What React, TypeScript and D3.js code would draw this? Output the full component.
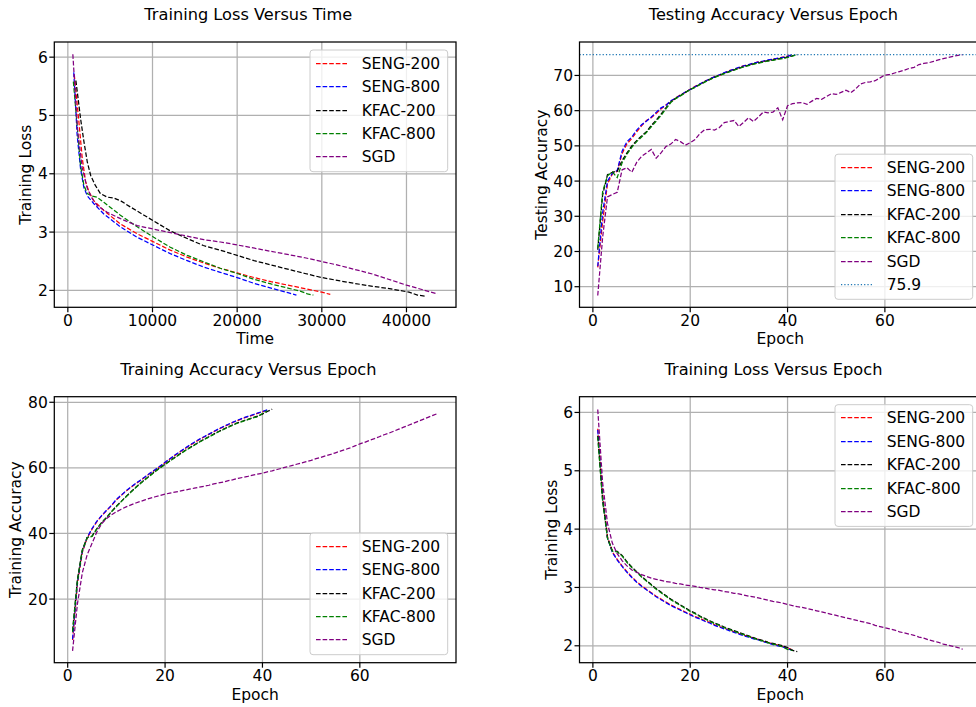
import React from "react";
import * as d3 from "d3";

const FONT = "DejaVu Sans, Verdana, sans-serif";
const FS = 15.5;
const TITLE_FS = 16.2;

const methodNames = ["SENG-200", "SENG-800", "KFAC-200", "KFAC-800", "SGD"];
const methodColors = ["#ff0000", "#0000ff", "#000000", "#008000", "#800080"];

// training loss vs wall-clock time, [seconds, loss]
const sengTime200 = [[760, 5.7], [1300, 4.9], [1700, 4.27], [2100, 3.86], [2500, 3.69], [3050, 3.54], [4250, 3.37], [6200, 3.14], [8200, 2.97], [10150, 2.83], [12100, 2.69], [14100, 2.57], [16050, 2.47], [18000, 2.38], [20000, 2.3], [22000, 2.22], [24000, 2.15], [26000, 2.09], [28000, 2.03], [30000, 1.97], [31000, 1.93]];
const sengTime800 = [[700, 5.74], [1100, 4.66], [1500, 4.09], [1900, 3.76], [2300, 3.62], [3050, 3.49], [4250, 3.31], [6200, 3.09], [8200, 2.91], [10150, 2.77], [12100, 2.63], [14100, 2.51], [16050, 2.4], [18000, 2.31], [20000, 2.22], [22000, 2.12], [24000, 2.04], [26000, 1.96], [27000, 1.92]];
const kfacTime200 = [[950, 5.6], [1500, 4.95], [1900, 4.55], [2300, 4.2], [2700, 3.97], [3250, 3.8], [3850, 3.66], [4650, 3.6], [5500, 3.58], [6300, 3.53], [7400, 3.43], [9000, 3.29], [10150, 3.19], [12100, 3.02], [14100, 2.89], [16000, 2.77], [18000, 2.69], [20000, 2.6], [22000, 2.51], [25000, 2.4], [28000, 2.29], [30000, 2.22], [33000, 2.14], [36000, 2.07], [38000, 2.03], [40300, 1.97], [41300, 1.92], [42300, 1.9]];
const kfacTime800 = [[650, 5.58], [1100, 4.83], [1500, 4.14], [1900, 3.8], [2300, 3.66], [2800, 3.62], [3450, 3.6], [4250, 3.51], [6200, 3.29], [8200, 3.09], [10150, 2.91], [12100, 2.74], [14100, 2.6], [16050, 2.49], [18000, 2.38], [20000, 2.29], [22000, 2.19], [24000, 2.11], [26000, 2.04], [27600, 1.98], [28300, 1.94], [29000, 1.92]];
const sgdTime = [[590, 6.05], [1150, 4.75], [1700, 4.1], [2300, 3.75], [2900, 3.57], [3500, 3.45], [4650, 3.34], [6220, 3.23], [8190, 3.11], [10160, 3.05], [12130, 2.99], [14090, 2.93], [16060, 2.87], [18030, 2.83], [20000, 2.78], [24000, 2.67], [28000, 2.56], [32000, 2.43], [36000, 2.28], [40000, 2.09], [43660, 1.94]];

// testing accuracy per epoch (epoch 1..n)
const sengTest200 = [15.5, 28.5, 39.2, 42, 42.8, 47.8, 50.6, 52.1, 54, 55.7, 57.2, 58, 59.2, 60.5, 61.6, 62.6, 63.6, 64.5, 65.2, 66.1, 66.9, 67.5, 68.4, 68.9, 69.7, 70.1, 70.7, 71.4, 71.7, 72.2, 72.8, 73, 73.4, 73.9, 74, 74.3, 74.7, 74.8, 75.2, 75.5, 75.9];
const sengTest800 = [15.8, 31, 40, 42.2, 43, 48.5, 51.2, 52.5, 54.5, 56, 57, 58.2, 59.5, 60.8, 61.5, 62.8, 63.5, 64.4, 65.3, 66, 66.8, 67.6, 68.3, 69, 69.6, 70.2, 70.8, 71.3, 71.8, 72.3, 72.7, 73.1, 73.5, 73.8, 74.1, 74.4, 74.6, 74.9, 75.1, 75.4, 75.9];
const kfacTest200 = [20.5, 36, 41.8, 42.5, 42.8, 45.8, 48, 50, 51.5, 52.8, 54, 55.8, 57.3, 59, 60.8, 62.5, 63.5, 64.3, 65.2, 66, 66.7, 67.5, 68.2, 68.9, 69.5, 70.1, 70.6, 71.1, 71.6, 72.1, 72.5, 72.9, 73.3, 73.6, 73.9, 74.2, 74.4, 74.7, 74.9, 75.2, 75.6, 75.9];
const kfacTest800 = [21, 37, 41.5, 42.6, 41, 45.2, 47.6, 49.6, 51.2, 52.5, 53.8, 55.4, 57, 58.6, 60.5, 62.3, 63.4, 64.2, 65.1, 66, 66.6, 67.4, 68.1, 68.8, 69.4, 70, 70.5, 71, 71.5, 72, 72.4, 72.8, 73.2, 73.5, 73.8, 74.1, 74.3, 74.6, 74.8, 75.1, 75.5, 75.9];
const sgdTest = [7.5, 24, 35.5, 36.2, 36.8, 43.2, 43.8, 42.5, 45.3, 47, 48, 49, 46.5, 48, 49.8, 50.5, 51.8, 51.2, 50.2, 50.9, 51.8, 53.5, 54.6, 54.7, 54.5, 55.2, 56.6, 56.9, 57.2, 55.5, 56.7, 58, 56.9, 58.2, 59.6, 59.4, 59.6, 60.8, 57.4, 61.4, 62, 62.2, 62.3, 61.8, 62.7, 63.5, 63.2, 64, 64.8, 64.6, 65.2, 65.8, 65.1, 66.2, 67.6, 68, 68.2, 68.5, 69.3, 70.1, 70.3, 70.7, 71.1, 71.5, 72, 72.3, 73.1, 73.4, 73.6, 74, 74.4, 74.8, 75.1, 75.4, 75.7, 75.9];
const targetAcc = 75.9;

// training accuracy per epoch
const sengTrain200 = [7.5, 24.6, 34.2, 38.6, 41.3, 43.6, 45.4, 47, 48.5, 50.2, 51.6, 52.9, 54.1, 55.2, 56.2, 57.3, 58.4, 59.4, 60.5, 61.6, 62.7, 63.8, 64.8, 65.8, 66.8, 67.7, 68.6, 69.4, 70.2, 71, 71.8, 72.5, 73.2, 73.9, 74.5, 75.1, 75.6, 76.1, 76.6, 77.1, 77.6];
const sengTrain800 = [7.8, 25, 34.5, 38.8, 41.5, 43.8, 45.5, 47.1, 48.6, 50.4, 51.7, 53, 54.2, 55.3, 56.3, 57.4, 58.5, 59.5, 60.6, 61.7, 62.8, 63.9, 64.9, 65.9, 66.9, 67.8, 68.7, 69.5, 70.3, 71.1, 71.9, 72.6, 73.3, 74, 74.6, 75.2, 75.7, 76.2, 76.7, 77.2, 77.7];
const kfacTrain200 = [10.3, 26, 35, 38.8, 39.2, 41.5, 43.4, 44.9, 46.7, 48.3, 49.8, 51.3, 52.7, 54.1, 55.4, 56.6, 57.8, 59, 60.1, 61.1, 62.2, 63.2, 64.2, 65.2, 66.1, 67, 67.9, 68.7, 69.5, 70.3, 71.1, 71.8, 72.5, 73.2, 73.8, 74.3, 74.8, 75.3, 75.8, 76.4, 77.2, 77.9];
const kfacTrain800 = [10, 25.6, 34.8, 38.7, 39.1, 41.4, 43.3, 44.8, 46.6, 48.2, 49.7, 51.2, 52.6, 54, 55.3, 56.5, 57.7, 58.9, 60, 61, 62.1, 63.1, 64.1, 65.1, 66, 66.9, 67.8, 68.6, 69.4, 70.2, 71, 71.7, 72.4, 73.1, 73.7, 74.2, 74.7, 75.2, 75.6, 76.6, 77.4];
const sgdTrain = [4.2, 18.5, 28, 33.5, 37, 40.5, 43, 44.6, 45.7, 46.6, 47.4, 48.1, 48.7, 49.3, 49.8, 50.3, 50.8, 51.2, 51.6, 52, 52.3, 52.6, 52.9, 53.2, 53.5, 53.8, 54.1, 54.4, 54.7, 55.1, 55.4, 55.7, 56.1, 56.4, 56.8, 57.1, 57.4, 57.8, 58.1, 58.4, 58.8, 59.1, 59.5, 59.9, 60.3, 60.7, 61.1, 61.5, 61.9, 62.3, 62.8, 63.2, 63.7, 64.1, 64.6, 65.1, 65.6, 66.1, 66.7, 67.3, 67.8, 68.4, 68.9, 69.5, 70.1, 70.6, 71.2, 71.8, 72.4, 73, 73.6, 74.2, 74.8, 75.4, 76, 76.6];

// training loss per epoch
const sengLoss200 = [5.72, 4.6, 3.87, 3.61, 3.48, 3.37, 3.27, 3.18, 3.1, 3.03, 2.97, 2.91, 2.85, 2.8, 2.75, 2.7, 2.66, 2.62, 2.58, 2.54, 2.5, 2.47, 2.43, 2.4, 2.36, 2.33, 2.3, 2.27, 2.24, 2.21, 2.18, 2.16, 2.13, 2.11, 2.08, 2.06, 2.03, 2.01, 1.99, 1.96, 1.93];
const sengLoss800 = [5.7, 4.55, 3.85, 3.6, 3.47, 3.36, 3.26, 3.17, 3.09, 3.02, 2.96, 2.9, 2.84, 2.79, 2.74, 2.69, 2.65, 2.61, 2.57, 2.53, 2.49, 2.46, 2.42, 2.39, 2.35, 2.32, 2.29, 2.26, 2.23, 2.2, 2.17, 2.15, 2.12, 2.1, 2.07, 2.05, 2.02, 2.0, 1.98, 1.95, 1.92];
const kfacLoss200 = [5.6, 4.5, 3.85, 3.63, 3.62, 3.55, 3.44, 3.35, 3.27, 3.19, 3.12, 3.05, 2.98, 2.92, 2.86, 2.8, 2.75, 2.7, 2.65, 2.6, 2.56, 2.51, 2.47, 2.43, 2.39, 2.36, 2.32, 2.29, 2.26, 2.23, 2.2, 2.17, 2.14, 2.11, 2.09, 2.06, 2.04, 2.02, 2.0, 1.97, 1.92, 1.9];
const kfacLoss800 = [5.58, 4.48, 3.84, 3.62, 3.61, 3.54, 3.43, 3.34, 3.26, 3.18, 3.11, 3.04, 2.97, 2.91, 2.85, 2.79, 2.74, 2.69, 2.64, 2.59, 2.55, 2.5, 2.46, 2.42, 2.38, 2.35, 2.31, 2.28, 2.25, 2.22, 2.19, 2.16, 2.13, 2.1, 2.08, 2.05, 2.03, 2.01, 1.98, 1.94, 1.92];
const sgdLoss = [6.05, 4.8, 4.1, 3.76, 3.58, 3.46, 3.37, 3.3, 3.26, 3.22, 3.19, 3.16, 3.14, 3.12, 3.1, 3.09, 3.07, 3.06, 3.04, 3.03, 3.02, 3.0, 2.99, 2.97, 2.96, 2.95, 2.93, 2.92, 2.9, 2.89, 2.87, 2.85, 2.84, 2.82, 2.8, 2.78, 2.76, 2.75, 2.73, 2.71, 2.69, 2.67, 2.66, 2.64, 2.62, 2.6, 2.58, 2.56, 2.54, 2.52, 2.5, 2.48, 2.46, 2.44, 2.42, 2.4, 2.38, 2.35, 2.33, 2.31, 2.29, 2.27, 2.24, 2.22, 2.2, 2.18, 2.15, 2.13, 2.1, 2.08, 2.06, 2.03, 2.01, 1.99, 1.97, 1.94];

const lossTicks = [2, 3, 4, 5, 6];
const timeTicks = [0, 10000, 20000, 30000, 40000];
const epochTicks = [0, 20, 40, 60];
const testTicks = [10, 20, 30, 40, 50, 60, 70];
const trainTicks = [20, 40, 60, 80];

const byEpoch = (vals) => vals.map((v, i) => [i + 1, v]);

const DASH = "4.6 2";
const DOT = "1.25 2.05";

function Panel({ id, box, title, xLabel, yLabel, yLabelOff, xDomain, yDomain, xTicks, yTicks, series, hline, legendAt }) {
  const x = d3.scaleLinear().domain(xDomain).range([box.left, box.right]);
  const y = d3.scaleLinear().domain(yDomain).range([box.bottom, box.top]);
  const line = d3.line().x(d => x(d[0])).y(d => y(d[1]));
  const cx = (box.left + box.right) / 2;
  const cy = (box.top + box.bottom) / 2;

  const entries = series.map(s => ({ name: s.name, color: s.color, dash: DASH }));
  if (hline) entries.push({ name: hline.name, color: hline.color, dash: DOT });
  const lw = 137.7, rowH = 23.4;
  const lh = 121.7 + (entries.length - 5) * rowH;
  const lx = box.right - 8.3 - lw;
  const ly = legendAt === "top" ? box.top + 8 : box.bottom - 8 - lh;

  return (
    <g fontFamily={FONT} fontSize={FS}>
      <defs>
        <clipPath id={id}>
          <rect x={box.left} y={box.top} width={box.right - box.left} height={box.bottom - box.top} />
        </clipPath>
      </defs>
      {xTicks.map(t => (
        <line key={"gx" + t} x1={x(t)} x2={x(t)} y1={box.top} y2={box.bottom} stroke="#b0b0b0" strokeWidth={1.25} />
      ))}
      {yTicks.map(t => (
        <line key={"gy" + t} x1={box.left} x2={box.right} y1={y(t)} y2={y(t)} stroke="#b0b0b0" strokeWidth={1.25} />
      ))}
      <g clipPath={`url(#${id})`}>
        {series.map(s => (
          <path key={s.name} d={line(s.points)} fill="none" stroke={s.color} strokeWidth={1.25} strokeDasharray={DASH} />
        ))}
        {hline && (
          <line x1={box.left} x2={box.right} y1={y(hline.value)} y2={y(hline.value)} stroke={hline.color} strokeWidth={1.25} strokeDasharray={DOT} />
        )}
      </g>
      <rect x={box.left} y={box.top} width={box.right - box.left} height={box.bottom - box.top} fill="none" stroke="#000" strokeWidth={1.25} />
      {xTicks.map(t => (
        <g key={"tx" + t}>
          <line x1={x(t)} x2={x(t)} y1={box.bottom} y2={box.bottom + 5} stroke="#000" strokeWidth={1.2} />
          <text x={x(t)} y={box.bottom + 18.5} textAnchor="middle">{t}</text>
        </g>
      ))}
      {yTicks.map(t => (
        <g key={"ty" + t}>
          <line x1={box.left - 5} x2={box.left} y1={y(t)} y2={y(t)} stroke="#000" strokeWidth={1.2} />
          <text x={box.left - 6.5} y={y(t) + 5.6} textAnchor="end">{t}</text>
        </g>
      ))}
      <text x={cx - 6.8} y={box.top - 22} textAnchor="middle" fontSize={TITLE_FS}>{title}</text>
      <text x={cx} y={box.bottom + 37} textAnchor="middle">{xLabel}</text>
      <text transform={`translate(${box.left - yLabelOff},${cy}) rotate(-90)`} textAnchor="middle">{yLabel}</text>
      <g>
        <rect x={lx} y={ly} width={lw} height={lh} rx={3} fill="#fff" fillOpacity={0.8} stroke="#cccccc" strokeWidth={1} />
        {entries.map((e, i) => {
          const ey = Math.round(ly + 12.7 + i * rowH) + 0.5;
          return (
            <g key={"lg" + e.name}>
              <line x1={lx + 6} x2={lx + 37} y1={ey} y2={ey} stroke={e.color} strokeWidth={1.25} strokeDasharray={e.dash} />
              <text x={lx + 51.7} y={ey + 5.1}>{e.name}</text>
            </g>
          );
        })}
      </g>
    </g>
  );
}

const mk = (arrs) => arrs.map((pts, i) => ({ name: methodNames[i], color: methodColors[i], points: pts }));

export default function App() {
  const boxes = {
    tl: { left: 54.3, right: 456, top: 42, bottom: 307.3 },
    tr: { left: 579.5, right: 981, top: 42, bottom: 307.3 },
    bl: { left: 54.3, right: 456, top: 396.7, bottom: 662.7 },
    br: { left: 579.5, right: 981, top: 396.7, bottom: 662.7 },
  };
  return (
    <svg width={976} height={707} style={{ position: "absolute", left: 0, top: 0, background: "#fff" }}>
      <Panel id="c1" box={boxes.tl} title="Training Loss Versus Time" xLabel="Time" yLabel="Training Loss" yLabelOff={23}
        xDomain={[-1600, 45850]} yDomain={[1.71, 6.26]} xTicks={timeTicks} yTicks={lossTicks}
        series={mk([sengTime200, sengTime800, kfacTime200, kfacTime800, sgdTime])} legendAt="top" />
      <Panel id="c2" box={boxes.tr} title="Testing Accuracy Versus Epoch" xLabel="Epoch" yLabel="Testing Accuracy" yLabelOff={33}
        xDomain={[-2.75, 79.75]} yDomain={[4.15, 79.5]} xTicks={epochTicks} yTicks={testTicks}
        series={mk([sengTest200, sengTest800, kfacTest200, kfacTest800, sgdTest].map(byEpoch))}
        hline={{ name: "75.9", value: targetAcc, color: "#1f77b4" }} legendAt="bottom" />
      <Panel id="c3" box={boxes.bl} title="Training Accuracy Versus Epoch" xLabel="Epoch" yLabel="Training Accuracy" yLabelOff={33}
        xDomain={[-2.75, 79.75]} yDomain={[0.6, 81.7]} xTicks={epochTicks} yTicks={trainTicks}
        series={mk([sengTrain200, sengTrain800, kfacTrain200, kfacTrain800, sgdTrain].map(byEpoch))} legendAt="bottom" />
      <Panel id="c4" box={boxes.br} title="Training Loss Versus Epoch" xLabel="Epoch" yLabel="Training Loss" yLabelOff={23}
        xDomain={[-2.75, 79.75]} yDomain={[1.71, 6.27]} xTicks={epochTicks} yTicks={lossTicks}
        series={mk([sengLoss200, sengLoss800, kfacLoss200, kfacLoss800, sgdLoss].map(byEpoch))} legendAt="top" />
    </svg>
  );
}
